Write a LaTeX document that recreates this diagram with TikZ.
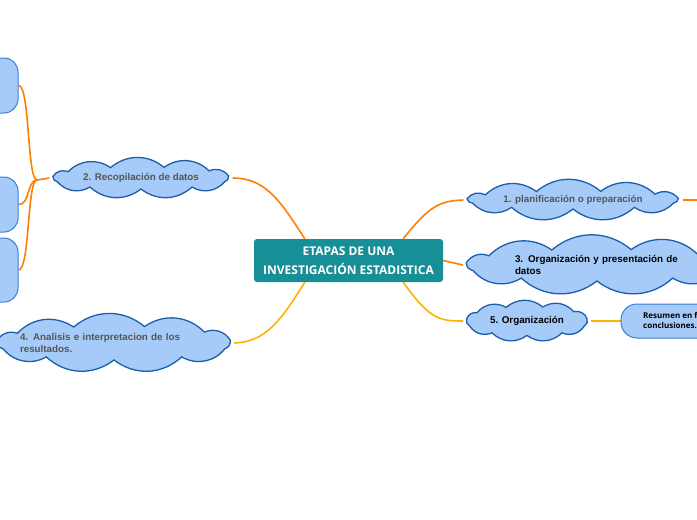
\documentclass[tikz,border=0pt]{standalone}
\usepackage{fontspec}
\setmainfont{Liberation Sans}
\newfontfamily\opensans{Open Sans}
\usetikzlibrary{backgrounds}
\definecolor{teal1}{HTML}{168F96}
\definecolor{cfill}{HTML}{A7CBF8}
\definecolor{cdraw}{HTML}{1B5FAA}
\definecolor{bdraw}{HTML}{3B7DD8}
\definecolor{org}{HTML}{FF8000}
\definecolor{yel}{HTML}{FFB300}
\definecolor{gtext}{HTML}{555555}
\tikzset{
  cloudtext/.style={rectangle, inner sep=0pt, font=\bfseries\fontsize{9.8}{12}\selectfont},
  cloudline/.style={fill=cfill, draw=cdraw, line width=1.3pt},
  boxnode/.style={rectangle, rounded corners=14pt, fill=cfill, draw=bdraw, line width=1pt, inner sep=0pt},
  orgline/.style={draw=org, line width=1.6pt},
  yelline/.style={draw=yel, line width=1.6pt},
}
% cloud outline around a named node: #1 name, #2 rx, #3 ry
\newcommand\mycloud[3]{%
  \path[cloudline, shift={(#1.center)}] (10:#2 and #3)
    foreach \a in {40,75,110,145,172,200,235,270,305,340} { to[bend right=40] (\a:#2 and #3) }
    to[bend right=40] cycle;}
\begin{document}
\begin{tikzpicture}[x=1pt,y=1pt]
\useasboundingbox (0,-520) rectangle (697,0);
\clip (0,-520) rectangle (697,0);

% central
\node[fill=teal1, rounded corners=3pt, minimum width=189pt, minimum height=43pt, inner sep=0pt,
  text=white, align=center, font=\opensans\bfseries\fontsize{12}{18.5}\selectfont] (central) at (348.5,-260.5)
  {ETAPAS DE UNA\\INVESTIGACIÓN ESTADISTICA};

% cloud texts
\node[cloudtext, minimum width=183pt, minimum height=41pt, text=gtext] (c2) at (141,-178) {2. Recopilación de datos};
\node[cloudtext, minimum width=240pt, minimum height=60pt, text=gtext, text width=188pt, align=left] (c4) at (114,-343) {4. Analisis e interpretacion de los\\resultados.};
\node[cloudtext, minimum width=219pt, minimum height=40pt, text=gtext] (c1) at (573,-200) {1. planificación o preparación};
\node[cloudtext, minimum width=268pt, minimum height=61pt, text width=164pt, align=left, font=\bfseries\fontsize{9.8}{11.5}\selectfont] (c3) at (597,-265) {3. Organización y presentación de\\datos};
\node[cloudtext, minimum width=127pt, minimum height=43pt] (c5) at (527,-321) {5. Organización};

% right box
\node[boxnode, rounded corners=16pt, minimum width=140pt, minimum height=34pt] (b5) at (691,-321) {};
\node[font=\opensans\bfseries\fontsize{8}{10}\selectfont, align=left, anchor=west, inner sep=0pt] (tb5) at (643,-320) {Resumen en f\\conclusiones.};

% left boxes
\node[boxnode, minimum width=80pt, minimum height=55pt] (b1) at (-22,-85.5) {};
\node[boxnode, minimum width=80pt, minimum height=55pt] (b2) at (-22,-204.5) {};
\node[boxnode, minimum width=80pt, minimum height=64pt] (b3) at (-22,-270) {};

\begin{scope}[on background layer]
% connectors
\coordinate (j2) at (37,-180);
\path[orgline] (c2.west) -- (j2);
\path[orgline] (j2) .. controls (27,-180) and (30,-85) .. (b1.east);
\path[orgline] (j2) .. controls (27,-180) and (30,-205) .. (b2.east);
\path[orgline] (j2) .. controls (27,-180) and (30,-270) .. (b3.east);

\path[orgline] ([xshift=51pt]central.north west) .. controls (280,-200) and (265,-178) .. (c2.east);
\path[yelline] ([xshift=51pt]central.south west) .. controls (280,-322) and (265,-342) .. (c4.east);
\path[orgline] ([xshift=-40pt]central.north east) .. controls (430,-205) and (440,-201) .. (c1.west);
\path[orgline] (central.east) -- (c3.west);
\path[yelline] ([xshift=-40pt]central.south east) .. controls (430,-320) and (440,-321) .. (c5.west);
\path[yelline] (c5.east) -- (b5.west);
\coordinate (r1) at (697,-200);
\path[orgline] (c1.east) -- (r1);
% clouds
\mycloud{c2}{89}{11}
\mycloud{c4}{118}{17}
\mycloud{c1}{107}{9}
\mycloud{c3}{132}{16}
\mycloud{c5}{61}{14.5}
\end{scope}
\end{tikzpicture}
\end{document}
